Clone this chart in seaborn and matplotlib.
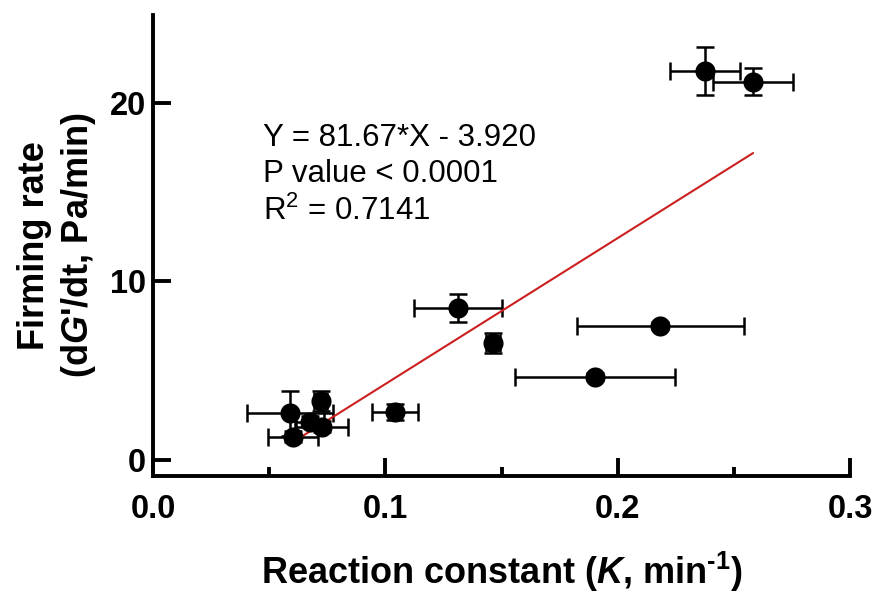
import matplotlib
matplotlib.use("Agg")
import matplotlib.pyplot as plt
import seaborn as sns
import numpy as np
import pandas as pd
from matplotlib.ticker import MultipleLocator

# ---- data ----
k_values = [0.2376, 0.2583, 0.1313, 0.1464, 0.2183, 0.1903, 0.0590, 0.0603, 0.0676, 0.0726, 0.0721, 0.1042]
firming = [21.77, 21.17, 8.50, 6.55, 7.52, 4.66, 2.61, 1.30, 2.14, 1.87, 3.32, 2.70]
k_err = [0.0150, 0.0172, 0.0190, 0.0030, 0.0360, 0.0343, 0.0186, 0.0108, 0.0060, 0.0115, 0.0030, 0.0100]
firming_err = [1.32, 0.76, 0.77, 0.55, 0.20, 0.20, 1.26, 0.30, 0.30, 0.30, 0.56, 0.45]
slope = 81.67
intercept = -3.920
annotation_lines = ["Y = 81.67*X - 3.920", "P value < 0.0001", "R$^{\\rm 2}$ = 0.7141"]
x_ticks = [0.0, 0.1, 0.2, 0.3]
x_tick_labels = ["0.0", "0.1", "0.2", "0.3"]
y_ticks = [0, 10, 20]
y_tick_labels = ["0", "10", "20"]

df = pd.DataFrame({"K": k_values, "rate": firming, "K_err": k_err, "rate_err": firming_err})
fit_x = [min(k_values), max(k_values)]
fit_df = pd.DataFrame({"K": fit_x, "rate": [slope * v + intercept for v in fit_x]})

sns.set_style("white")
plt.rcParams["font.family"] = ["Liberation Sans", "DejaVu Sans"]
plt.rcParams["mathtext.fontset"] = "custom"
plt.rcParams["mathtext.rm"] = "Liberation Sans"
plt.rcParams["mathtext.bf"] = "Liberation Sans:bold"
plt.rcParams["mathtext.it"] = "Liberation Sans:bold:italic"
for key in ["text.color", "axes.labelcolor", "xtick.color", "ytick.color", "axes.edgecolor"]:
    plt.rcParams[key] = "black"

fig = plt.figure(figsize=(8.77, 5.97), dpi=100)
ax = fig.add_axes([153 / 877, 1 - 476 / 597, (850 - 153) / 877, (476 - 15) / 597])

ax.errorbar(df["K"], df["rate"], xerr=df["K_err"], yerr=df["rate_err"], fmt="none",
            ecolor="black", elinewidth=1.8, capsize=6.5, capthick=1.8, zorder=2)
sns.lineplot(data=fit_df, x="K", y="rate", ax=ax, color="#cc1f1f", linewidth=1.5, zorder=2.5)
sns.scatterplot(data=df, x="K", y="rate", ax=ax, color="black", s=210, edgecolor="black",
                linewidth=0, zorder=3)

ax.set_xlim(0, 0.3)
ax.set_ylim(-0.9, 24.9)
ax.set_xticks(x_ticks)
ax.set_xticklabels(x_tick_labels)
ax.set_yticks(y_ticks)
ax.set_yticklabels(y_tick_labels)
ax.xaxis.set_minor_locator(MultipleLocator(0.05))

for s in ["top", "right"]:
    ax.spines[s].set_visible(False)
for s in ["left", "bottom"]:
    ax.spines[s].set_linewidth(2.8)
    ax.spines[s].set_color("black")

ax.tick_params(axis="both", which="major", direction="in", length=13, width=2.8,
               labelsize=23.5, color="black", labelcolor="black", bottom=True, left=True)
ax.tick_params(axis="x", which="major", pad=13)
ax.tick_params(axis="y", which="major", pad=5)
ax.tick_params(axis="x", which="minor", direction="in", length=6.5, width=2.8,
               color="black", bottom=True)
for lab in ax.get_xticklabels() + ax.get_yticklabels():
    lab.set_fontweight("bold")

ax.set_xlabel("Reaction constant ($\\it{K}$, min$^{\\bf{\u20101}}$)", fontsize=26,
              fontweight="bold", labelpad=18, color="black")
ax.set_ylabel("Firming rate\n(d$\\it{G}$'/dt, Pa/min)", fontsize=26, fontweight="bold",
              labelpad=8.5, linespacing=1.25, color="black")

y_positions = [17.59, 15.53, 13.45]
for txt, yp in zip(annotation_lines, y_positions):
    ax.text(0.0474, yp, txt, fontsize=22.5, va="baseline", ha="left", color="black")

fig.savefig("out.png", dpi=100)
